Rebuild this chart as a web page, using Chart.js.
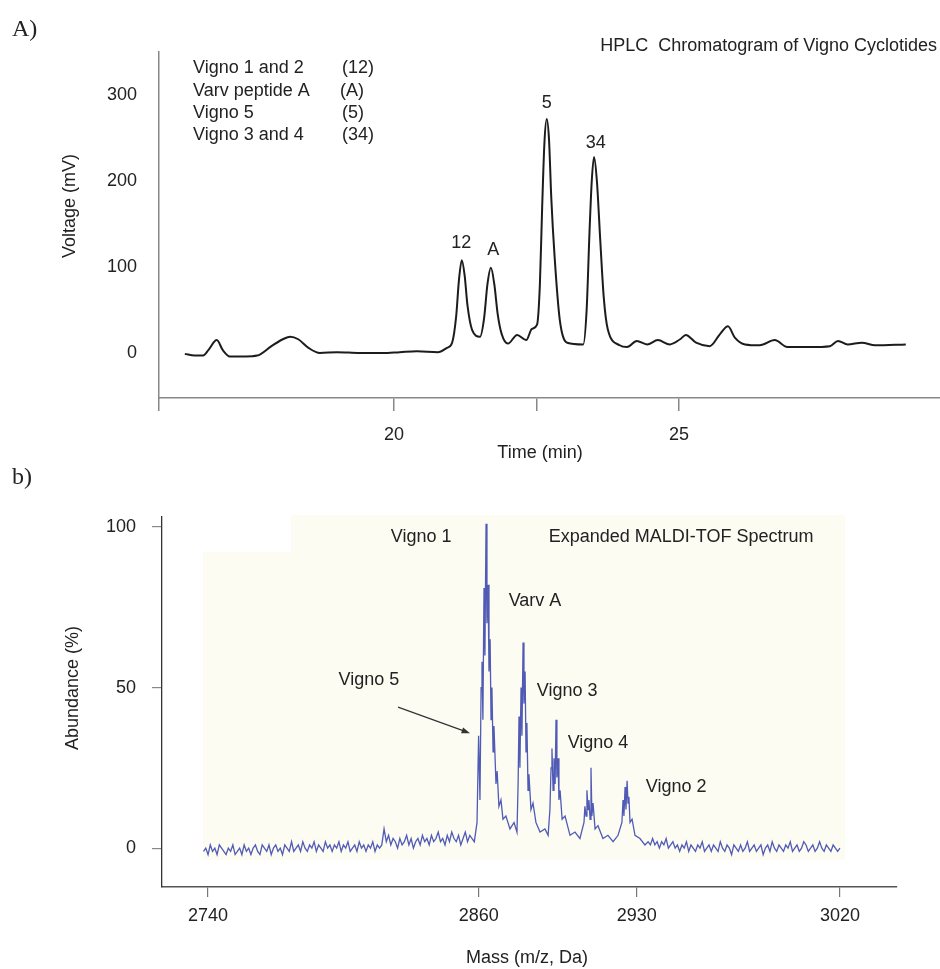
<!DOCTYPE html>
<html>
<head>
<meta charset="utf-8">
<title>HPLC and MALDI-TOF of Vigno cyclotides</title>
<script src="https://cdn.jsdelivr.net/npm/chart.js@4.4.1/dist/chart.umd.min.js"></script>
<style>
  body { margin: 0; background: #fff; }
  #wrap { position: relative; width: 940px; height: 969px; }
  #wrap canvas { position: absolute; left: 0; }
  #hplc { top: 0; }
  #maldi { top: 455px; }
</style>
</head>
<body>
<div id="wrap">
  <canvas id="hplc" width="940" height="470"></canvas>
  <canvas id="maldi" width="940" height="514"></canvas>
</div>
<script>
// ── A) HPLC chromatogram: retention time (min) vs detector voltage (mV) ──────
const HPLC_TIME = [
  16.33, 16.50, 16.65, 16.75, 16.89, 17.00, 17.12, 17.40, 17.60, 17.85,
  18.05, 18.18, 18.32, 18.50, 18.70, 19.00, 19.40, 19.80, 20.10, 20.40,
  20.77, 20.93, 21.02, 21.09, 21.14, 21.19, 21.24, 21.29, 21.37, 21.51,
  21.58, 21.64, 21.70, 21.76, 21.82, 21.89, 22.00, 22.16, 22.32, 22.42,
  22.51, 22.56, 22.60, 22.64, 22.68, 22.72, 22.76, 22.82, 22.91, 23.04,
  23.32, 23.38, 23.43, 23.47, 23.51, 23.56, 23.62, 23.68, 23.75, 23.96,
  24.09, 24.26, 24.44, 24.63, 24.84, 25.02, 25.12, 25.30, 25.54, 25.72,
  25.86, 25.98, 26.16, 26.42, 26.68, 26.90, 27.30, 27.65, 27.79, 27.96,
  28.21, 28.44, 28.98
];
const HPLC_MV = [
  -1, -3, -3, 4, 15, 3, -4, -4, -3, 8,
  16, 19, 16, 6, 0, 1, 0, 0, 1, 2,
  1, 6, 12, 42, 85, 108, 90, 55, 27, 19,
  40, 80, 99, 80, 45, 22, 11, 21, 15, 28,
  33, 80, 170, 245, 272, 248, 180, 110, 38, 12,
  10, 50, 140, 200, 228, 200, 130, 65, 28, 9,
  7, 14, 10, 15, 10, 16, 21, 12, 8, 22,
  31, 18, 10, 9, 15, 7, 7, 8, 14, 10,
  12, 9, 10
];
const HPLC_X_TICKS = [20, 22.5, 25];
const HPLC_Y_TICKS = [0, 100, 200, 300];
const HPLC_NAMES = ['Vigno 1 and 2', 'Varv peptide A', 'Vigno 5', 'Vigno 3 and 4'];
const HPLC_CODES = ['(12)', '(A)', '(5)', '(34)'];

// ── b) Expanded MALDI-TOF spectrum: mass (m/z) vs abundance (%) ──────────────
// baseline noise left of the cluster, one reading per Da from 2738
const MZ_LEFT_START = 2738;
const MZ_LEFT = [
  -1, 0, -2, 1, -1, 0, -2, 1, 0, -1,
  -2, 0, -1, 1, -2, -1, 0, -2, 1, -1,
  0, -2, 0, 1, -1, -2, 1, 0, -1, 1,
  -2, 0, 1, -1, 0, -2, 1, 0, -1, 2,
  -1, 0, 1, -1, 2, 0, -1, 1, 0, 2,
  -1, 1, 0, -1, 2, 0, 1, -1, 1, 0,
  2, -1, 1, 0, 2, -1, 0, 1, -1, 2,
  0, 1, -1, 1, 0, 2, -1, 1, 0, 1,
  6, 2, 4, 1, 3, 2, 0, 3, 1, 2,
  4, 1, 3, 0, 2, 3, 1, 4, 2, 3,
  1, 4, 2, 3, 5, 2, 3, 1, 4, 2,
  5, 3, 2, 4, 1, 3, 5, 2, 4, 3,
  2
];
// peak cluster (Vigno 5 / Vigno 1 / Varv A, Vigno 3, Vigno 4, ?, Vigno 2)
const MZ_PEAK_MASS = [
  2859.2, 2859.9, 2860.5, 2861.0, 2861.4, 2861.8, 2862.3, 2862.7, 2863.2, 2863.6,
  2864.1, 2864.5, 2865.0, 2865.4, 2865.8, 2866.3, 2866.7, 2867.6, 2868.1, 2868.9,
  2869.8, 2870.7, 2872.0, 2873.8, 2875.6, 2876.9,
  2877.4, 2877.8, 2878.2, 2878.7, 2879.1, 2879.6, 2880.0, 2880.5, 2880.9, 2881.3,
  2881.8, 2882.2, 2883.1, 2884.0, 2885.3, 2887.1, 2889.3, 2890.7,
  2891.5, 2892.0, 2892.4, 2892.9, 2893.3, 2893.8, 2894.2, 2894.6, 2895.1, 2895.5,
  2896.0, 2896.9, 2898.2, 2900.4, 2902.6, 2904.8,
  2906.6, 2907.0, 2907.5, 2907.9, 2908.4, 2908.8, 2909.3, 2909.7, 2910.1, 2910.6,
  2911.5, 2912.8, 2915.0, 2917.2, 2919.5, 2921.7,
  2923.4, 2923.9, 2924.3, 2924.8, 2925.2, 2925.7, 2926.1, 2926.5, 2927.0, 2927.9,
  2929.2, 2931.4, 2933.6
];
const MZ_PEAK_ABUND = [
  8, 35, 15, 50, 58, 40, 81, 60, 101, 70,
  82, 55, 65, 40, 50, 30, 38, 20, 24, 13,
  15, 9, 10, 6, 8, 5,
  20, 41, 25, 50, 35, 64, 45, 55, 30, 39,
  18, 23, 12, 14, 8, 5, 6, 4,
  12, 25, 31, 18, 28, 20, 40, 22, 28, 15,
  18, 9, 10, 4, 5, 3,
  8, 13, 10, 18, 12, 15, 9, 25, 10, 14,
  6, 7, 3, 4, 2, 4,
  8, 15, 10, 19, 12, 21, 14, 16, 8, 9,
  4, 3, 1
];
// baseline noise right of the cluster, one reading per Da from 2935
const MZ_RIGHT_START = 2935;
const MZ_RIGHT = [
  2, 1, 3, 1, 2, 0, 2, 1, 3, 0,
  1, 2, 0, 1, -1, 1, 0, 2, -1, 1,
  0, -1, 1, 0, 2, -1, 0, 1, -1, 1,
  0, -1, 2, 0, -1, 1, 0, -2, 1, 0,
  -1, 1, -1, 0, 2, -1, 0, 1, -1, 0,
  1, -2, 0, 1, -1, 2, 0, -1, 1, 0,
  -1, 1, 0, 2, -1, 0, 1, -1, 0, 2,
  1, -1, 0, 1, -1, 0, 2, 0, -1, 1,
  0, -1, 1, 0, -1, 0
];
const MZ_X_TICKS = [2740, 2860, 2930, 3020];
const MZ_Y_TICKS = [0, 50, 100];

// ── shared styling ───────────────────────────────────────────────────────────
const SANS = "'Liberation Sans', Arial, sans-serif";
const FONT = '18px ' + SANS;
const SERIF = "24px 'Liberation Serif', 'Times New Roman', serif";
const INK = '#222';

Chart.defaults.font.family = SANS;
Chart.defaults.font.size = 18;
Chart.defaults.color = INK;

// Free text, arrows and the spectrum's pale panel, drawn on top of the chart
const notesPlugin = {
  id: 'notes',
  beforeDatasetsDraw(chart, args, opts) {
    if (!opts.panel) return;
    const { ctx, scales: { x, y } } = chart;
    ctx.save();
    ctx.fillStyle = opts.panel.color;
    ctx.beginPath();
    opts.panel.points.forEach(([mx, my], i) => {
      const px = x.getPixelForValue(mx), py = y.getPixelForValue(my);
      i ? ctx.lineTo(px, py) : ctx.moveTo(px, py);
    });
    ctx.closePath();
    ctx.fill();
    ctx.restore();
  },
  afterDraw(chart, args, opts) {
    const { ctx, scales: { x, y } } = chart;
    ctx.save();
    ctx.fillStyle = INK;
    ctx.textBaseline = 'middle';
    for (const n of opts.items || []) {
      const px = n.px !== undefined ? n.px : x.getPixelForValue(n.x);
      const py = n.py !== undefined ? n.py : y.getPixelForValue(n.y);
      ctx.font = n.font || FONT;
      ctx.textAlign = n.align || 'center';
      if (n.rotate) {
        ctx.save();
        ctx.translate(px, py);
        ctx.rotate(-Math.PI / 2);
        ctx.fillText(n.text, 0, 0);
        ctx.restore();
      } else {
        ctx.fillText(n.text, px, py);
      }
    }
    for (const a of opts.arrows || []) {
      const x0 = x.getPixelForValue(a.from[0]), y0 = y.getPixelForValue(a.from[1]);
      const x1 = x.getPixelForValue(a.to[0]), y1 = y.getPixelForValue(a.to[1]);
      const ang = Math.atan2(y1 - y0, x1 - x0);
      ctx.strokeStyle = '#333';
      ctx.fillStyle = '#333';
      ctx.lineWidth = 1.2;
      ctx.beginPath();
      ctx.moveTo(x0, y0);
      ctx.lineTo(x1 - 6 * Math.cos(ang), y1 - 6 * Math.sin(ang));
      ctx.stroke();
      ctx.beginPath();
      ctx.moveTo(x1, y1);
      ctx.lineTo(x1 - 9 * Math.cos(ang - 0.35), y1 - 9 * Math.sin(ang - 0.35));
      ctx.lineTo(x1 - 9 * Math.cos(ang + 0.35), y1 - 9 * Math.sin(ang + 0.35));
      ctx.closePath();
      ctx.fill();
    }
    ctx.restore();
  }
};

// ── A) HPLC chart ────────────────────────────────────────────────────────────
const hplcNotes = [
  { text: 'A)', px: 12, py: 30, align: 'left', font: SERIF },
  { text: 'HPLC  Chromatogram of Vigno Cyclotides', px: 937, py: 46, align: 'right' },
  { text: '12', x: 21.18, y: 128 },
  { text: 'A', x: 21.74, y: 120 },
  { text: '5', x: 22.68, y: 291 },
  { text: '34', x: 23.54, y: 244 },
  { text: 'Voltage (mV)', px: 70, py: 206, rotate: true },
  { text: 'Time (min)', px: 540, py: 453 }
];
const LEGEND_ROWS_Y = [68, 91, 113, 135];
HPLC_NAMES.forEach((name, i) => {
  hplcNotes.push({ text: name, px: 193, py: LEGEND_ROWS_Y[i], align: 'left' });
  hplcNotes.push({ text: HPLC_CODES[i], px: i === 1 ? 340 : 342, py: LEGEND_ROWS_Y[i], align: 'left' });
});

new Chart(document.getElementById('hplc'), {
  type: 'line',
  data: {
    datasets: [{
      data: HPLC_TIME.map((t, i) => ({ x: t, y: HPLC_MV[i] })),
      borderColor: '#1c1c1c',
      borderWidth: 2,
      pointRadius: 0,
      cubicInterpolationMode: 'monotone',
      fill: false
    }]
  },
  options: {
    responsive: false,
    animation: false,
    events: [],
    layout: { padding: { top: 52, right: 0, bottom: 0, left: 0 } },
    plugins: {
      legend: { display: false },
      tooltip: { enabled: false },
      notes: { items: hplcNotes }
    },
    scales: {
      x: {
        type: 'linear',
        min: 15.877,
        max: 29.58,
        afterBuildTicks: ax => { ax.ticks = [ax.min, ...HPLC_X_TICKS].map(v => ({ value: v })); },
        afterFit: s => { s.height = 72; },
        ticks: {
          callback: v => (v % 5 === 0 ? String(v) : ''),
          padding: 13, maxRotation: 0, autoSkip: false
        },
        grid: { drawOnChartArea: false, drawTicks: true, tickLength: 13, color: '#888', lineWidth: 1.5 },
        border: { color: '#888', width: 1.5 }
      },
      y: {
        min: -52.3,
        max: 350,
        afterBuildTicks: ax => { ax.ticks = HPLC_Y_TICKS.map(v => ({ value: v })); },
        afterFit: s => { s.width = 159; },
        ticks: { padding: 22 },
        grid: { display: false, drawTicks: false },
        border: { color: '#888', width: 1.5 }
      }
    }
  },
  plugins: [notesPlugin]
});

// ── b) MALDI-TOF chart ───────────────────────────────────────────────────────
const spectrum = [
  ...MZ_LEFT.map((v, i) => ({ x: MZ_LEFT_START + i, y: v })),
  ...MZ_PEAK_MASS.map((m, i) => ({ x: m, y: MZ_PEAK_ABUND[i] })),
  ...MZ_RIGHT.map((v, i) => ({ x: MZ_RIGHT_START + i, y: v }))
];

new Chart(document.getElementById('maldi'), {
  type: 'line',
  data: {
    datasets: [{
      data: spectrum,
      borderColor: 'rgba(50,62,170,0.85)',
      borderWidth: 1.3,
      pointRadius: 0,
      tension: 0,
      fill: false
    }]
  },
  options: {
    responsive: false,
    animation: false,
    events: [],
    layout: { padding: { top: 62, right: 43, bottom: 0, left: 0 } },
    plugins: {
      legend: { display: false },
      tooltip: { enabled: false },
      notes: {
        panel: {
          color: '#fcfcf2',
          points: [[2776.8, 103.7], [3022.3, 103.7], [3022.3, -3.7], [2737.8, -3.7], [2737.8, 92.2], [2776.8, 92.2]]
        },
        items: [
          { text: 'b)', px: 12, py: 23, align: 'left', font: SERIF },
          { text: 'Vigno 1', x: 2834.4, y: 96.9 },
          { text: 'Expanded MALDI-TOF Spectrum', x: 2949.6, y: 96.9 },
          { text: 'Varv A', x: 2884.9, y: 76.9 },
          { text: 'Vigno 5', x: 2811.3, y: 52.3 },
          { text: 'Vigno 3', x: 2899.1, y: 48.9 },
          { text: 'Vigno 4', x: 2912.8, y: 32.7 },
          { text: 'Vigno 2', x: 2947.4, y: 19.0 },
          { text: 'Abundance (%)', px: 73, py: 233, rotate: true },
          { text: 'Mass (m/z, Da)', px: 527, py: 503 }
        ],
        arrows: [{ from: [2824.2, 43.9], to: [2856.1, 35.8] }]
      }
    },
    scales: {
      x: {
        type: 'linear',
        min: 2719.6,
        max: 3045.3,
        afterBuildTicks: ax => { ax.ticks = MZ_X_TICKS.map(v => ({ value: v })); },
        afterFit: s => { s.height = 82; },
        ticks: { callback: v => String(v), padding: 8, maxRotation: 0, autoSkip: false },
        grid: { drawOnChartArea: false, drawTicks: true, tickLength: 10, color: '#777', lineWidth: 1.2 },
        border: { color: '#555', width: 1.5 }
      },
      y: {
        min: -12.1,
        max: 103.1,
        afterBuildTicks: ax => { ax.ticks = MZ_Y_TICKS.map(v => ({ value: v })); },
        afterFit: s => { s.width = 162; },
        ticks: { padding: 16 },
        grid: { drawOnChartArea: false, drawTicks: true, tickLength: 10, color: '#888', lineWidth: 1.2 },
        border: { color: '#333', width: 1.3 }
      }
    }
  },
  plugins: [notesPlugin]
});
</script>
</body>
</html>
